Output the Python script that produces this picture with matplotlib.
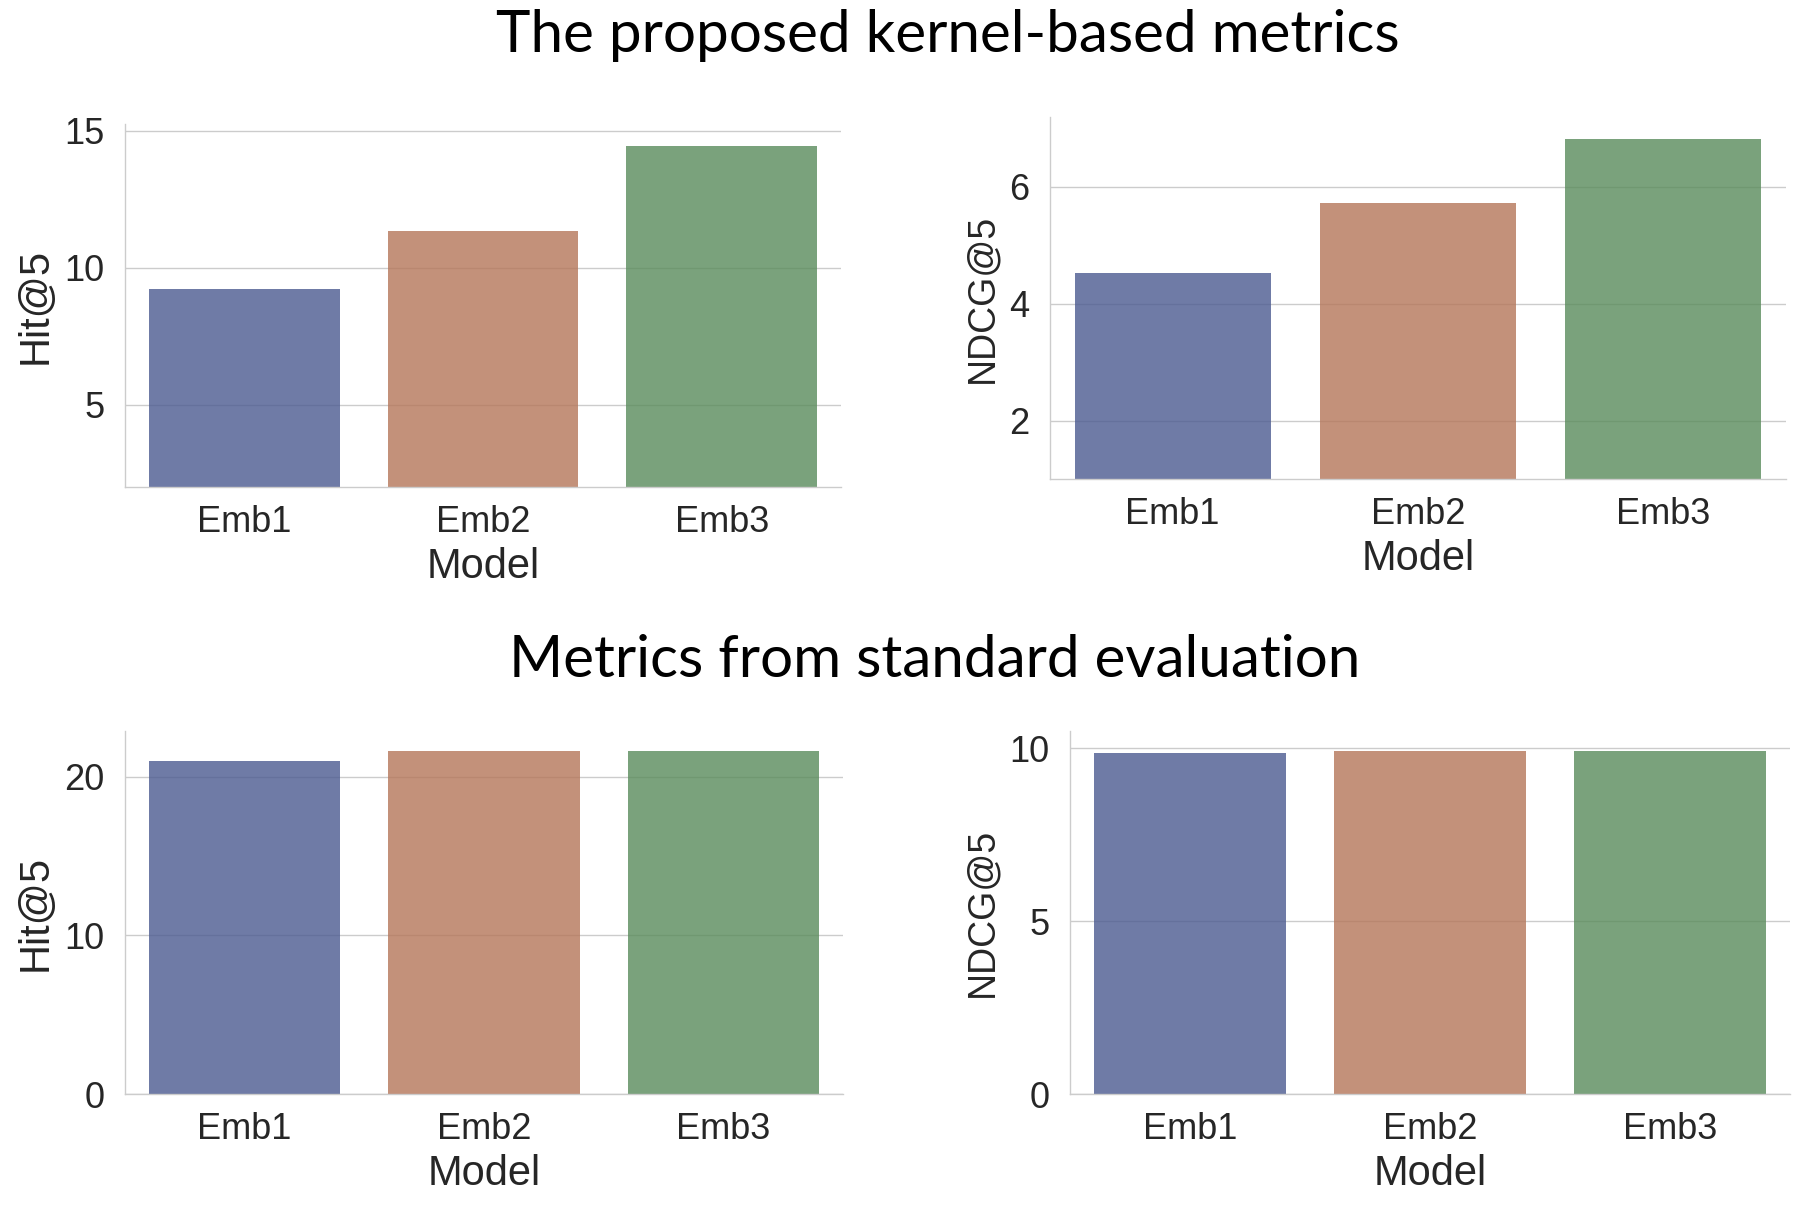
import matplotlib
matplotlib.use("Agg")
import matplotlib.pyplot as plt

# Data
models = ["Emb1", "Emb2", "Emb3"]
kernel_hit = [9.21, 11.34, 14.43]
kernel_ndcg = [4.53, 5.72, 6.81]
std_hit = [20.99, 21.62, 21.62]
std_ndcg = [9.87, 9.92, 9.92]

bar_colors = ["#4b5a90", "#b57659", "#598b5b"]

W, H = 1809, 1214


def px_rect(x0, y0, x1, y1):
    # pixel box (top-left origin) -> figure fraction rect
    return [x0 / W, 1 - y1 / H, (x1 - x0) / W, (y1 - y0) / H]


panels = [
    (px_rect(125, 124, 841, 487), kernel_hit, "Hit@5", 30, (2, 15.25), [5, 10, 15]),
    (px_rect(1050, 117, 1786, 479), kernel_ndcg, "NDCG@5", 27, (1.0, 7.19), [2, 4, 6]),
    (px_rect(125, 731, 843, 1094), std_hit, "Hit@5", 30, (0, 22.9), [0, 10, 20]),
    (px_rect(1070, 731, 1790, 1094), std_ndcg, "NDCG@5", 27, (0, 10.5), [0, 5, 10]),
]

plt.rcParams["font.family"] = ["Liberation Sans", "DejaVu Sans"]
plt.rcParams["text.color"] = "#262626"

fig = plt.figure(figsize=(W / 100, H / 100), dpi=100)

for rect, vals, ylab, ylab_size, ylim, yticks in panels:
    ax = fig.add_axes(rect)
    ax.bar(models, vals, width=0.8, color=bar_colors, alpha=0.8, zorder=2)
    ax.set_xlim(-0.5, 2.5)
    ax.set_ylim(*ylim)
    ax.set_yticks(yticks)
    ax.yaxis.grid(True, color="#cccccc", linewidth=1.0, zorder=1)
    ax.set_axisbelow(True)
    for side in ["top", "right"]:
        ax.spines[side].set_visible(False)
    for side in ["left", "bottom"]:
        ax.spines[side].set_color("#cccccc")
        ax.spines[side].set_linewidth(1.0)
    ax.tick_params(axis="both", length=0, labelsize=26, labelcolor="#262626")
    ax.tick_params(axis="y", pad=15)
    ax.tick_params(axis="x", pad=13)
    ax.set_xlabel("Model", fontsize=30, color="#262626", labelpad=5)
    ax.set_ylabel(ylab, fontsize=ylab_size, color="#262626", labelpad=6)

fig.text(948 / W, 1 - 52 / H, "The proposed kernel-based metrics",
         family="Lato", fontsize=42, color="black", ha="center", va="baseline")
fig.text(935 / W, 1 - 677 / H, "Metrics from standard evaluation",
         family="Lato", fontsize=42, color="black", ha="center", va="baseline")

fig.savefig("out.png", dpi=100, facecolor="white")
